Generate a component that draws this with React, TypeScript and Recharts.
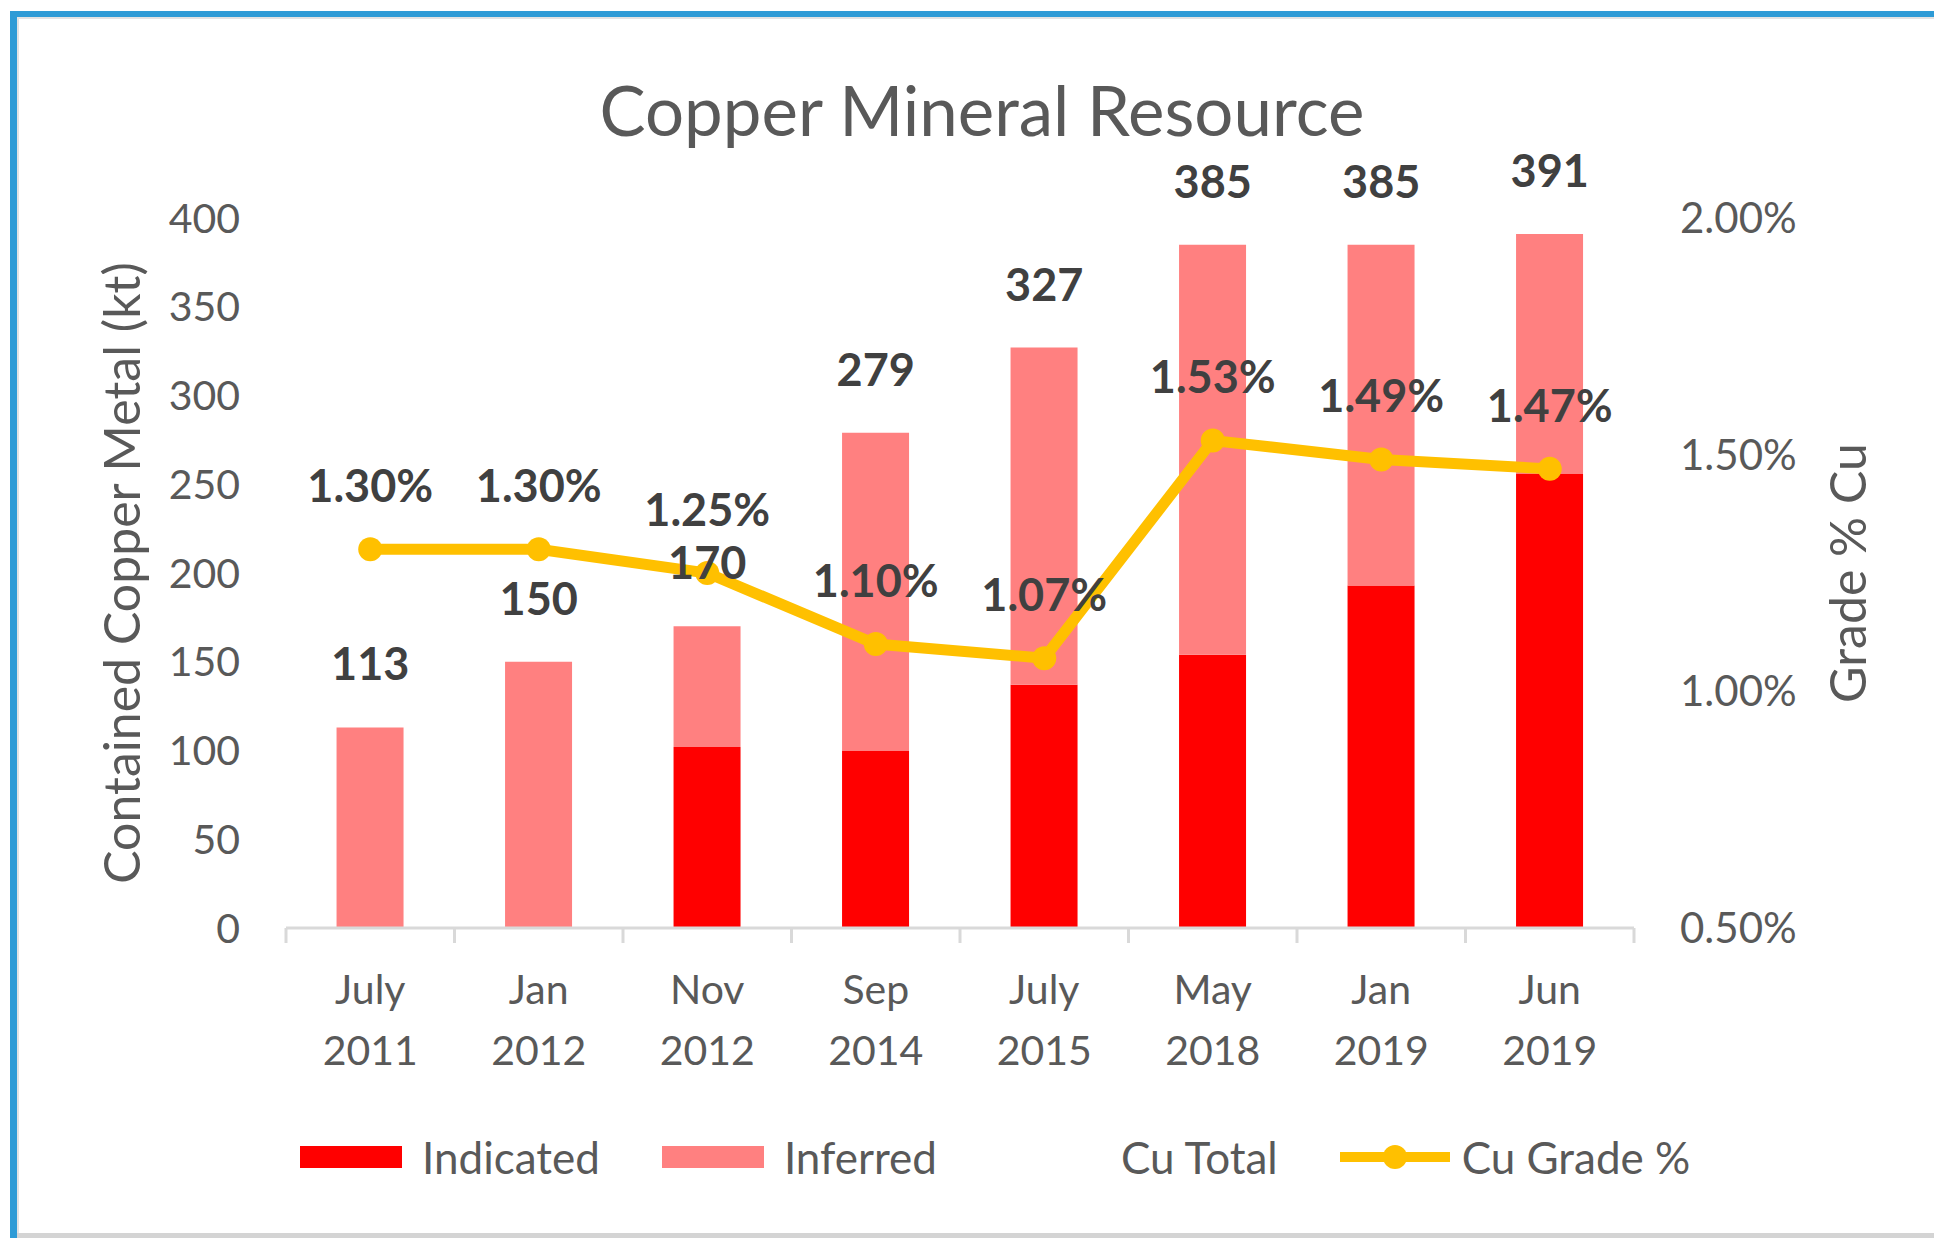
import { ComposedChart, Bar, Line, XAxis, YAxis, Legend, LabelList } from "recharts"

const months = ["July", "Jan", "Nov", "Sep", "July", "May", "Jan", "Jun"]
const years = ["2011", "2012", "2012", "2014", "2015", "2018", "2019", "2019"]
const indicated = [0, 0, 102, 100, 137, 154, 193, 256]
const inferred = [113, 150, 68, 179, 190, 231, 192, 135]
const cuTotal = [113, 150, 170, 279, 327, 385, 385, 391]
const cuGrade = [1.3, 1.3, 1.25, 1.1, 1.07, 1.53, 1.49, 1.47]

const leftTicks = [0, 50, 100, 150, 200, 250, 300, 350, 400]
const rightTicks = [0.5, 1.0, 1.5, 2.0]

const data = months.map((m, i) => ({
  name: `${m} ${years[i]}`,
  indicated: indicated[i],
  inferred: inferred[i],
  total: cuTotal[i],
  grade: cuGrade[i],
}))

const FONT = "Lato, 'Open Sans', sans-serif"
const TEXT = "#595959"
const LABEL = "#404040"
const RED = "#ff0000"
const PINK = "#ff8080"
const GOLD = "#ffc000"
const AXIS = "#d9d9d9"

const W = 1934
const H = 1238
const PLOT_LEFT = 286
const PLOT_RIGHT = 1634
const BAND = (PLOT_RIGHT - PLOT_LEFT) / months.length

function CategoryTick(props: any) {
  const { x, y, payload, index } = props
  const [m, yr] = String(payload.value).split(" ")
  return (
    <g>
      <line x1={x - BAND / 2} x2={x - BAND / 2} y1={y} y2={y + 15} stroke={AXIS} strokeWidth={3} />
      {index === months.length - 1 && (
        <line x1={x + BAND / 2} x2={x + BAND / 2} y1={y} y2={y + 15} stroke={AXIS} strokeWidth={3} />
      )}
      <text x={x} y={y + 76} textAnchor="middle" fill={TEXT} fontSize={41} fontFamily={FONT}>
        {m}
      </text>
      <text x={x} y={y + 137} textAnchor="middle" fill={TEXT} fontSize={41} fontFamily={FONT}>
        {yr}
      </text>
    </g>
  )
}

function axisTitle(text: string, dx: number) {
  return (props: any) => {
    const vb = props.viewBox
    const cx = vb.x + dx
    const cy = 573
    return (
      <text
        x={cx}
        y={cy}
        transform={`rotate(-90, ${cx}, ${cy})`}
        textAnchor="middle"
        dominantBaseline="central"
        fill={TEXT}
        fontSize={50}
        fontFamily={FONT}
      >
        {text}
      </text>
    )
  }
}

const legendOrder = ["Indicated", "Inferred", "Cu Total", "Cu Grade %"]

function LegendContent(props: any) {
  const items = [...(props.payload ?? [])].sort(
    (a: any, b: any) => legendOrder.indexOf(a.value) - legendOrder.indexOf(b.value)
  )
  return (
    <div style={{ height: 60, display: "flex", alignItems: "center", paddingLeft: 300, fontFamily: FONT }}>
      {items.map((it: any) => (
        <div key={it.value} style={{ display: "flex", alignItems: "center", marginRight: 62 }}>
          <svg width={110} height={30} style={{ marginRight: 12 }}>
            {it.value === "Indicated" && <rect x={0} y={4} width={102} height={22} fill={RED} />}
            {it.value === "Inferred" && <rect x={0} y={4} width={102} height={22} fill={PINK} />}
            {it.value === "Cu Grade %" && (
              <g>
                <line x1={0} x2={110} y1={15} y2={15} stroke={GOLD} strokeWidth={10} strokeLinecap="round" />
                <circle cx={55} cy={15} r={12} fill={GOLD} />
              </g>
            )}
          </svg>
          <span style={{ fontSize: 44, color: TEXT, lineHeight: 1 }}>{it.value}</span>
        </div>
      ))}
    </div>
  )
}

export default function App() {
  return (
    <div style={{ position: "absolute", left: 0, top: 0, width: W, height: H, background: "#fff", overflow: "hidden" }}>
      <div style={{ position: "absolute", left: 10, top: 11, right: 0, height: 6, background: "#2e9bd6" }} />
      <div style={{ position: "absolute", left: 10, top: 11, bottom: 0, width: 7, background: "#2e9bd6" }} />
      <div style={{ position: "absolute", left: 17, top: 17, right: 0, height: 2, background: "#e3e3e3" }} />
      <div style={{ position: "absolute", left: 17, top: 17, bottom: 0, width: 2, background: "#e3e3e3" }} />
      <div style={{ position: "absolute", left: 17, bottom: 0, right: 0, height: 5, background: "#d4d4d4" }} />
      <div
        style={{
          position: "absolute",
          left: 0,
          width: 1964,
          top: 74,
          textAlign: "center",
          fontFamily: FONT,
          fontSize: 69,
          lineHeight: "72px",
          color: TEXT,
        }}
      >
        Copper Mineral Resource
      </div>
      <div style={{ position: "absolute", left: 0, top: 0 }}>
        <ComposedChart
          width={W}
          height={H}
          data={data}
          margin={{ top: 218, right: 0, bottom: 51, left: 0 }}
          barCategoryGap="30%"
        >
          <XAxis
            dataKey="name"
            height={199}
            axisLine={{ stroke: AXIS, strokeWidth: 3 }}
            tickLine={false}
            tickSize={0}
            tickMargin={0}
            interval={0}
            tick={<CategoryTick />}
          />
          <YAxis
            yAxisId="left"
            width={PLOT_LEFT}
            domain={[0, 400]}
            ticks={leftTicks}
            axisLine={false}
            tickLine={false}
            tickSize={0}
            tickMargin={46}
            tick={{ fill: TEXT, fontSize: 41, fontFamily: FONT }}
            label={{ value: "Contained Copper Metal (kt)", content: axisTitle("Contained Copper Metal (kt)", 121) }}
          />
          <YAxis
            yAxisId="right"
            orientation="right"
            width={W - PLOT_RIGHT}
            domain={[0.5, 2]}
            ticks={rightTicks}
            tickFormatter={(v: number) => `${v.toFixed(2)}%`}
            axisLine={false}
            tickLine={false}
            tickSize={0}
            tickMargin={46}
            tick={{ fill: TEXT, fontSize: 42, fontFamily: FONT }}
            label={{ value: "Grade % Cu", content: axisTitle("Grade % Cu", 213) }}
          />
          <Legend verticalAlign="bottom" content={<LegendContent />} />
          <Bar yAxisId="left" dataKey="indicated" name="Indicated" stackId="a" fill={RED} isAnimationActive={false} />
          <Bar yAxisId="left" dataKey="inferred" name="Inferred" stackId="a" fill={PINK} isAnimationActive={false} />
          <Line
            yAxisId="right"
            dataKey="grade"
            name="Cu Grade %"
            stroke={GOLD}
            strokeWidth={11}
            dot={{ r: 12, fill: GOLD, stroke: GOLD, strokeWidth: 0 }}
            activeDot={false}
            isAnimationActive={false}
          >
            <LabelList
              dataKey="grade"
              position="top"
              offset={47}
              formatter={(v: any) => `${Number(v).toFixed(2)}%`}
              fill={LABEL}
              fontSize={45}
              fontWeight="bold"
              fontFamily={FONT}
            />
          </Line>
          <Line
            yAxisId="left"
            dataKey="total"
            name="Cu Total"
            stroke="none"
            dot={false}
            activeDot={false}
            legendType="none"
            isAnimationActive={false}
          >
            <LabelList dataKey="total" position="top" offset={47} fill={LABEL} fontSize={45} fontWeight="bold" fontFamily={FONT} />
          </Line>
        </ComposedChart>
      </div>
    </div>
  )
}
